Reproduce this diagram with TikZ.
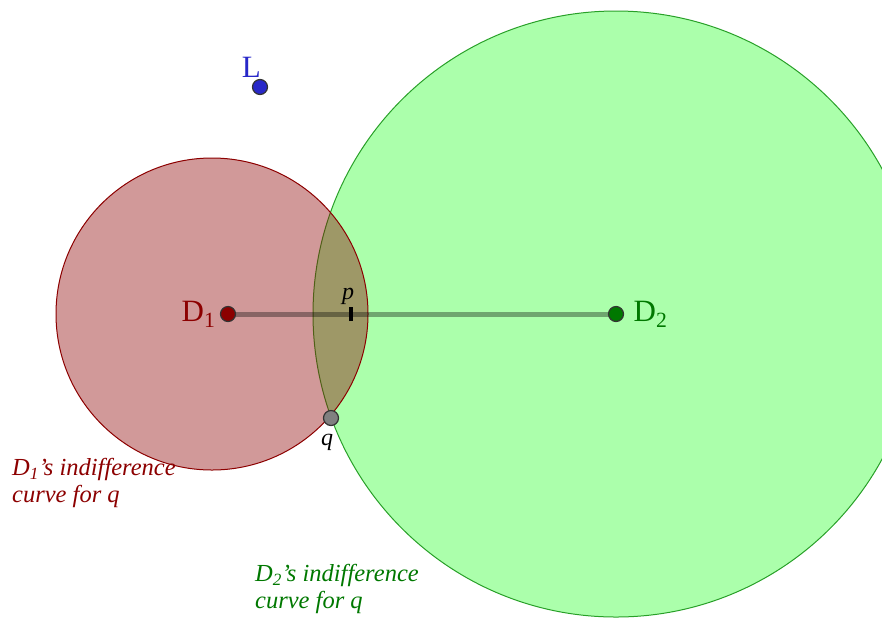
\documentclass[tikz,border=0pt]{standalone}
\usepackage{fontspec}
\setmainfont{Liberation Serif}
\usetikzlibrary{positioning}
\definecolor{dred}{RGB}{140,0,0}
\definecolor{dgreen}{RGB}{0,120,0}
\definecolor{lgreen}{RGB}{0,255,0}
\definecolor{edgegreen}{RGB}{40,160,40}
\definecolor{pblue}{RGB}{40,40,200}

\tikzset{
    dot/.style={circle, draw=black!80, line width=1.2pt, inner sep=0pt, minimum size=15pt},
    lbl/.style={font=\fontsize{31}{31}\selectfont},
    curvetext/.style={align=left, anchor=north west, inner sep=0pt,
        font=\fontsize{24.5}{27}\selectfont\itshape}
}

\begin{document}
\begin{tikzpicture}[x=1pt, y=-1pt]
    \useasboundingbox (0,0) rectangle (882,625);

    % indifference curves
    \draw[draw=edgegreen, line width=1pt, fill=lgreen, fill opacity=0.33] (616,314) circle (303pt);
    \draw[draw=dred, line width=1pt, fill=dred, fill opacity=0.4] (212,314) circle (156pt);

    % points
    \coordinate (d1) at (228,314);
    \coordinate (d2) at (616,314);
    \coordinate (p) at (351,314);

    \draw[black, opacity=0.35, line width=5pt] (d1) -- (d2);
    \draw[black, line width=4pt] ([yshift=-7pt]p) -- ([yshift=7pt]p);
    \node[above=9pt of p, xshift=-3pt, inner sep=0pt, font=\fontsize{24}{24}\selectfont\itshape] (plabel) {p};

    \node[dot, fill=dred] (D1) at (d1) {};
    \node[dot, fill=dgreen] (D2) at (d2) {};
    \node[dot, fill=gray] (q) at (331,418) {};
    \node[dot, fill=pblue] (L) at (260,87) {};

    \node[lbl, text=dred, left=1pt of D1] (D1label) {D\textsubscript{1}};
    \node[lbl, text=dgreen, right=6pt of D2] (D2label) {D\textsubscript{2}};
    \node[lbl, text=pblue, above left=0pt and -10pt of L] (Llabel) {L};
    \node[below left=10pt and -8pt of q, inner sep=0pt, font=\fontsize{24}{24}\selectfont\itshape] (qlabel) {q};

    % captions
    \node[curvetext, text=dred] (cap1) at (12,458) {D\textsubscript{1}’s indifference\\curve for q};
    \node[curvetext, text=dgreen] (cap2) at (255,564) {D\textsubscript{2}’s indifference\\curve for q};
\end{tikzpicture}
\end{document}
